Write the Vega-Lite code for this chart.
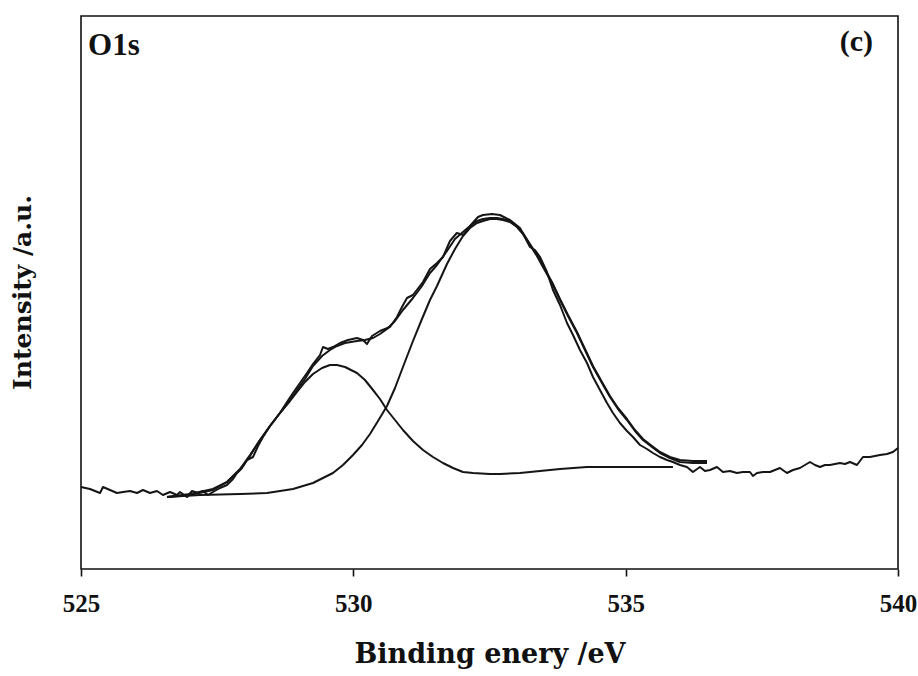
{
  "$schema": "https://vega.github.io/schema/vega-lite/v6.json",
  "width": 817,
  "height": 553,
  "autosize": {"type": "none"},
  "padding": {"left": 81, "top": 16, "right": 20, "bottom": 107},
  "background": "white",
  "config": {
    "view": {"stroke": "#111", "strokeWidth": 1.6},
    "axis": {"grid": false}
  },
  "datasets": {
    "curves": [
      {"s":"raw","E":525.000,"I":82},{"s":"raw","E":525.165,"I":80},{"s":"raw","E":525.349,"I":76},{"s":"raw","E":525.404,"I":82},{"s":"raw","E":525.532,"I":79},{"s":"raw","E":525.661,"I":76},{"s":"raw","E":525.771,"I":77},{"s":"raw","E":525.900,"I":78},{"s":"raw","E":526.028,"I":76},{"s":"raw","E":526.138,"I":79},{"s":"raw","E":526.267,"I":76},{"s":"raw","E":526.395,"I":78},{"s":"raw","E":526.505,"I":74},{"s":"raw","E":526.634,"I":77},{"s":"raw","E":526.762,"I":74},{"s":"raw","E":526.818,"I":77},{"s":"raw","E":526.946,"I":72},{"s":"raw","E":527.038,"I":78},{"s":"raw","E":527.148,"I":76},{"s":"raw","E":527.240,"I":78},{"s":"raw","E":527.332,"I":74},{"s":"raw","E":527.423,"I":77},{"s":"raw","E":527.552,"I":81},{"s":"raw","E":527.680,"I":84},{"s":"raw","E":527.791,"I":90},{"s":"raw","E":527.864,"I":96},{"s":"raw","E":527.956,"I":101},{"s":"raw","E":528.048,"I":109},{"s":"raw","E":528.158,"I":112},{"s":"raw","E":528.250,"I":123},{"s":"raw","E":528.341,"I":132},{"s":"raw","E":528.470,"I":143},{"s":"raw","E":528.653,"I":156},{"s":"raw","E":528.782,"I":167},{"s":"raw","E":528.892,"I":176},{"s":"raw","E":529.020,"I":186},{"s":"raw","E":529.149,"I":196},{"s":"raw","E":529.259,"I":205},{"s":"raw","E":529.388,"I":214},{"s":"raw","E":529.443,"I":222},{"s":"raw","E":529.535,"I":220},{"s":"raw","E":529.626,"I":222},{"s":"raw","E":529.755,"I":226},{"s":"raw","E":529.902,"I":229},{"s":"raw","E":530.067,"I":231},{"s":"raw","E":530.177,"I":229},{"s":"raw","E":530.251,"I":225},{"s":"raw","E":530.342,"I":233},{"s":"raw","E":530.489,"I":238},{"s":"raw","E":530.673,"I":242},{"s":"raw","E":530.801,"I":252},{"s":"raw","E":530.893,"I":262},{"s":"raw","E":530.985,"I":271},{"s":"raw","E":531.095,"I":274},{"s":"raw","E":531.279,"I":287},{"s":"raw","E":531.407,"I":300},{"s":"raw","E":531.536,"I":306},{"s":"raw","E":531.646,"I":312},{"s":"raw","E":531.774,"I":328},{"s":"raw","E":531.900,"I":336},{"s":"raw","E":532.020,"I":334},{"s":"raw","E":532.142,"I":343},{"s":"raw","E":532.289,"I":352},{"s":"raw","E":532.380,"I":354},{"s":"raw","E":532.546,"I":355},{"s":"raw","E":532.692,"I":354},{"s":"raw","E":532.876,"I":349},{"s":"raw","E":533.060,"I":341},{"s":"raw","E":533.243,"I":322},{"s":"raw","E":533.335,"I":319},{"s":"raw","E":533.427,"I":312},{"s":"raw","E":533.555,"I":297},{"s":"raw","E":533.665,"I":279},{"s":"raw","E":533.794,"I":264},{"s":"raw","E":533.923,"I":246},{"s":"raw","E":534.033,"I":234},{"s":"raw","E":534.161,"I":219},{"s":"raw","E":534.290,"I":206},{"s":"raw","E":534.400,"I":192},{"s":"raw","E":534.528,"I":179},{"s":"raw","E":534.657,"I":166},{"s":"raw","E":534.767,"I":156},{"s":"raw","E":534.895,"I":146},{"s":"raw","E":535.024,"I":138},{"s":"raw","E":535.134,"I":132},{"s":"raw","E":535.263,"I":124},{"s":"raw","E":535.391,"I":120},{"s":"raw","E":535.501,"I":116},{"s":"raw","E":535.630,"I":112},{"s":"raw","E":535.758,"I":109},{"s":"raw","E":535.868,"I":107},{"s":"raw","E":535.997,"I":104},{"s":"raw","E":536.125,"I":102},{"s":"raw","E":536.235,"I":97},{"s":"raw","E":536.364,"I":102},{"s":"raw","E":536.456,"I":98},{"s":"raw","E":536.548,"I":99},{"s":"raw","E":536.676,"I":102},{"s":"raw","E":536.786,"I":97},{"s":"raw","E":536.915,"I":98},{"s":"raw","E":537.043,"I":96},{"s":"raw","E":537.153,"I":97},{"s":"raw","E":537.282,"I":97},{"s":"raw","E":537.337,"I":93},{"s":"raw","E":537.411,"I":96},{"s":"raw","E":537.521,"I":97},{"s":"raw","E":537.649,"I":97},{"s":"raw","E":537.741,"I":99},{"s":"raw","E":537.833,"I":101},{"s":"raw","E":537.961,"I":96},{"s":"raw","E":538.071,"I":99},{"s":"raw","E":538.200,"I":101},{"s":"raw","E":538.384,"I":107},{"s":"raw","E":538.475,"I":104},{"s":"raw","E":538.567,"I":102},{"s":"raw","E":538.659,"I":104},{"s":"raw","E":538.751,"I":104},{"s":"raw","E":538.934,"I":106},{"s":"raw","E":539.026,"I":105},{"s":"raw","E":539.118,"I":107},{"s":"raw","E":539.246,"I":104},{"s":"raw","E":539.357,"I":112},{"s":"raw","E":539.485,"I":112},{"s":"raw","E":539.669,"I":114},{"s":"raw","E":539.798,"I":115},{"s":"raw","E":539.908,"I":117},{"s":"raw","E":540.000,"I":121},
      {"s":"p1","E":526.579,"I":72},{"s":"p1","E":527.001,"I":74},{"s":"p1","E":527.423,"I":79},{"s":"p1","E":527.680,"I":87},{"s":"p1","E":527.919,"I":99},{"s":"p1","E":528.103,"I":113},{"s":"p1","E":528.286,"I":129},{"s":"p1","E":528.470,"I":143},{"s":"p1","E":528.653,"I":156},{"s":"p1","E":528.837,"I":168},{"s":"p1","E":528.966,"I":177},{"s":"p1","E":529.112,"I":187},{"s":"p1","E":529.259,"I":195},{"s":"p1","E":529.425,"I":201},{"s":"p1","E":529.571,"I":204},{"s":"p1","E":529.700,"I":204},{"s":"p1","E":529.847,"I":202},{"s":"p1","E":530.067,"I":196},{"s":"p1","E":530.214,"I":189},{"s":"p1","E":530.361,"I":179},{"s":"p1","E":530.489,"I":170},{"s":"p1","E":530.618,"I":159},{"s":"p1","E":530.765,"I":149},{"s":"p1","E":530.911,"I":139},{"s":"p1","E":531.095,"I":128},{"s":"p1","E":531.279,"I":119},{"s":"p1","E":531.462,"I":112},{"s":"p1","E":531.646,"I":106},{"s":"p1","E":531.830,"I":101},{"s":"p1","E":532.013,"I":97},{"s":"p1","E":532.197,"I":96},{"s":"p1","E":532.509,"I":95},{"s":"p1","E":532.692,"I":95},{"s":"p1","E":533.060,"I":96},{"s":"p1","E":533.427,"I":98},{"s":"p1","E":533.794,"I":100},{"s":"p1","E":534.290,"I":102},{"s":"p1","E":534.895,"I":102},{"s":"p1","E":535.868,"I":102},
      {"s":"p2","E":526.579,"I":72},{"s":"p2","E":527.185,"I":74},{"s":"p2","E":527.919,"I":75},{"s":"p2","E":528.415,"I":76},{"s":"p2","E":528.892,"I":80},{"s":"p2","E":529.259,"I":86},{"s":"p2","E":529.626,"I":96},{"s":"p2","E":529.810,"I":104},{"s":"p2","E":529.994,"I":114},{"s":"p2","E":530.159,"I":124},{"s":"p2","E":530.306,"I":135},{"s":"p2","E":530.453,"I":148},{"s":"p2","E":530.618,"I":163},{"s":"p2","E":530.765,"I":181},{"s":"p2","E":530.911,"I":202},{"s":"p2","E":531.095,"I":228},{"s":"p2","E":531.260,"I":250},{"s":"p2","E":531.407,"I":269},{"s":"p2","E":531.536,"I":283},{"s":"p2","E":531.719,"I":305},{"s":"p2","E":531.866,"I":320},{"s":"p2","E":532.013,"I":333},{"s":"p2","E":532.142,"I":341},{"s":"p2","E":532.270,"I":346},{"s":"p2","E":532.380,"I":348},{"s":"p2","E":532.509,"I":350},{"s":"p2","E":532.637,"I":350},{"s":"p2","E":532.747,"I":349},{"s":"p2","E":532.876,"I":347},{"s":"p2","E":533.004,"I":342},{"s":"p2","E":533.115,"I":335},{"s":"p2","E":533.243,"I":324},{"s":"p2","E":533.372,"I":313},{"s":"p2","E":533.482,"I":302},{"s":"p2","E":533.647,"I":286},{"s":"p2","E":533.794,"I":269},{"s":"p2","E":533.941,"I":253},{"s":"p2","E":534.106,"I":236},{"s":"p2","E":534.253,"I":219},{"s":"p2","E":534.400,"I":202},{"s":"p2","E":534.565,"I":186},{"s":"p2","E":534.712,"I":172},{"s":"p2","E":534.859,"I":160},{"s":"p2","E":535.024,"I":149},{"s":"p2","E":535.171,"I":138},{"s":"p2","E":535.318,"I":129},{"s":"p2","E":535.483,"I":122},{"s":"p2","E":535.630,"I":116},{"s":"p2","E":535.813,"I":111},{"s":"p2","E":535.997,"I":107},{"s":"p2","E":536.235,"I":106},{"s":"p2","E":536.493,"I":106},
      {"s":"fit","E":526.579,"I":72},{"s":"fit","E":527.001,"I":75},{"s":"fit","E":527.423,"I":80},{"s":"fit","E":527.680,"I":87},{"s":"fit","E":527.919,"I":100},{"s":"fit","E":528.103,"I":114},{"s":"fit","E":528.286,"I":129},{"s":"fit","E":528.470,"I":143},{"s":"fit","E":528.653,"I":156},{"s":"fit","E":528.837,"I":169},{"s":"fit","E":528.966,"I":179},{"s":"fit","E":529.112,"I":190},{"s":"fit","E":529.259,"I":203},{"s":"fit","E":529.425,"I":213},{"s":"fit","E":529.571,"I":219},{"s":"fit","E":529.700,"I":223},{"s":"fit","E":529.847,"I":226},{"s":"fit","E":530.067,"I":228},{"s":"fit","E":530.214,"I":229},{"s":"fit","E":530.361,"I":231},{"s":"fit","E":530.489,"I":235},{"s":"fit","E":530.618,"I":240},{"s":"fit","E":530.765,"I":248},{"s":"fit","E":530.911,"I":259},{"s":"fit","E":531.095,"I":271},{"s":"fit","E":531.260,"I":283},{"s":"fit","E":531.407,"I":296},{"s":"fit","E":531.536,"I":304},{"s":"fit","E":531.719,"I":318},{"s":"fit","E":531.866,"I":330},{"s":"fit","E":532.013,"I":337},{"s":"fit","E":532.142,"I":343},{"s":"fit","E":532.270,"I":348},{"s":"fit","E":532.380,"I":350},{"s":"fit","E":532.509,"I":351},{"s":"fit","E":532.637,"I":351},{"s":"fit","E":532.747,"I":350},{"s":"fit","E":532.876,"I":348},{"s":"fit","E":533.004,"I":343},{"s":"fit","E":533.115,"I":336},{"s":"fit","E":533.243,"I":325},{"s":"fit","E":533.372,"I":314},{"s":"fit","E":533.482,"I":303},{"s":"fit","E":533.647,"I":287},{"s":"fit","E":533.794,"I":270},{"s":"fit","E":533.941,"I":254},{"s":"fit","E":534.106,"I":237},{"s":"fit","E":534.253,"I":220},{"s":"fit","E":534.400,"I":203},{"s":"fit","E":534.565,"I":187},{"s":"fit","E":534.712,"I":173},{"s":"fit","E":534.859,"I":161},{"s":"fit","E":535.024,"I":150},{"s":"fit","E":535.171,"I":139},{"s":"fit","E":535.318,"I":130},{"s":"fit","E":535.483,"I":123},{"s":"fit","E":535.630,"I":117},{"s":"fit","E":535.813,"I":112},{"s":"fit","E":535.997,"I":109},{"s":"fit","E":536.235,"I":108},{"s":"fit","E":536.493,"I":108}
    ],
    "labelsLeft": [{"text": "O1s", "E": 525.129, "I": 514}],
    "labelsRight": [{"text": "(c)", "E": 539.54, "I": 518}]
  },
  "layer": [
    {
      "data": {"name": "curves"},
      "mark": {"type": "line", "color": "#151515", "strokeWidth": 2, "strokeJoin": "round"},
      "encoding": {
        "x": {
          "field": "E", "type": "quantitative",
          "scale": {"domain": [525, 540], "nice": false, "zero": false},
          "axis": {
            "values": [525, 530, 535, 540],
            "domain": false,
            "ticks": true, "tickSize": 7, "tickWidth": 1.6, "tickColor": "#111",
            "labelFont": "Liberation Serif", "labelFontWeight": "bold", "labelFontSize": 25, "labelColor": "#111",
            "labelPadding": 15, "labelFlush": false,
            "title": "Binding enery /eV",
            "titleFont": "DejaVu Serif", "titleFontWeight": "bold", "titleFontSize": 27, "titleColor": "#111",
            "titleY": 93, "titleBaseline": "alphabetic"
          }
        },
        "y": {
          "field": "I", "type": "quantitative",
          "scale": {"domain": [0, 553], "nice": false, "zero": false},
          "axis": {
            "domain": false, "ticks": false, "labels": false,
            "title": "Intensity /a.u.",
            "titleFont": "DejaVu Serif", "titleFontWeight": "bold", "titleFontSize": 25, "titleColor": "#111",
            "titleX": -51, "titleY": 276, "titleAngle": -90, "titleBaseline": "alphabetic", "titleAlign": "center"
          }
        },
        "detail": {"field": "s", "type": "nominal"}
      }
    },
    {
      "data": {"name": "labelsLeft"},
      "mark": {"type": "text", "align": "left", "baseline": "alphabetic", "font": "Liberation Serif", "fontWeight": "bold", "fontSize": 31, "color": "#111"},
      "encoding": {
        "x": {"field": "E", "type": "quantitative"},
        "y": {"field": "I", "type": "quantitative"},
        "text": {"field": "text"}
      }
    },
    {
      "data": {"name": "labelsRight"},
      "mark": {"type": "text", "align": "right", "baseline": "alphabetic", "font": "Liberation Serif", "fontWeight": "bold", "fontSize": 30, "color": "#111"},
      "encoding": {
        "x": {"field": "E", "type": "quantitative"},
        "y": {"field": "I", "type": "quantitative"},
        "text": {"field": "text"}
      }
    }
  ]
}
